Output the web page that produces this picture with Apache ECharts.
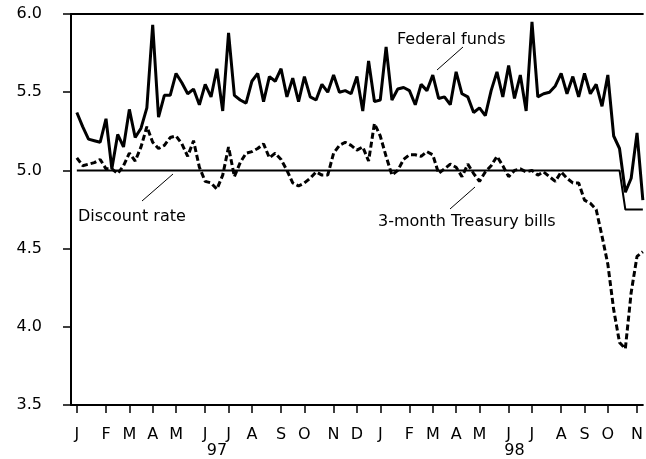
<!DOCTYPE html>
<html>
<head>
<meta charset="utf-8">
<script src="https://cdn.jsdelivr.net/npm/echarts@6/dist/echarts.min.js"></script>
<style>
html, body { margin: 0; padding: 0; background: #fff; }
#chart { width: 646px; height: 459px; }
</style>
</head>
<body>
<div id="chart"></div>
<script>
// weekly averages, week ending Friday, 1997-01-03 .. 1998-11-13
const firstFriday = '1997-01-03'
const monthLetters = ['J', 'F', 'M', 'A', 'M', 'J', 'J', 'A', 'S', 'O', 'N', 'D']
const yearLabels = { '1997-06-20': '97', '1998-06-12': '98' }

const fedFunds = [
    5.37, 5.28, 5.20, 5.19, 5.18, 5.33, 5.01, 5.23, 5.15, 5.39,
    5.21, 5.27, 5.40, 5.93, 5.34, 5.48, 5.48, 5.62, 5.56, 5.49,
    5.52, 5.42, 5.55, 5.47, 5.65, 5.38, 5.88, 5.48, 5.45, 5.43,
    5.57, 5.62, 5.44, 5.60, 5.57, 5.65, 5.47, 5.59, 5.44, 5.60,
    5.47, 5.45, 5.55, 5.50, 5.61, 5.50, 5.51, 5.49, 5.60, 5.38,
    5.70, 5.44, 5.45, 5.79, 5.45, 5.52, 5.53, 5.51, 5.42, 5.55,
    5.51, 5.61, 5.46, 5.47, 5.42, 5.63, 5.49, 5.47, 5.37, 5.40,
    5.35, 5.51, 5.63, 5.47, 5.67, 5.46, 5.61, 5.38, 5.95, 5.47,
    5.49, 5.50, 5.54, 5.62, 5.49, 5.60, 5.47, 5.62, 5.49, 5.55,
    5.41, 5.61, 5.22, 5.14, 4.86, 4.95, 5.24, 4.81
]
const tBills = [
    5.08, 5.03, 5.04, 5.05, 5.07, 5.01, 5.01, 4.98, 5.03, 5.11,
    5.06, 5.15, 5.28, 5.18, 5.14, 5.16, 5.21, 5.22, 5.17, 5.09,
    5.19, 5.02, 4.93, 4.92, 4.88, 4.97, 5.15, 4.96, 5.05, 5.11,
    5.12, 5.14, 5.17, 5.08, 5.11, 5.07, 5.00, 4.92, 4.90, 4.92,
    4.95, 4.99, 4.97, 4.97, 5.11, 5.16, 5.18, 5.16, 5.13, 5.15,
    5.06, 5.30, 5.22, 5.09, 4.97, 5.00, 5.07, 5.10, 5.10, 5.09,
    5.12, 5.10, 4.98, 5.01, 5.04, 5.02, 4.96, 5.04, 4.98, 4.93,
    4.99, 5.03, 5.09, 5.03, 4.96, 5.00, 5.01, 4.99, 5.00, 4.97,
    4.99, 4.96, 4.93, 4.99, 4.95, 4.92, 4.92, 4.81, 4.79, 4.75,
    4.58, 4.40, 4.11, 3.90, 3.86, 4.22, 4.45, 4.48
]
const discountRate = [
    5.00, 5.00, 5.00, 5.00, 5.00, 5.00, 5.00, 5.00, 5.00, 5.00,
    5.00, 5.00, 5.00, 5.00, 5.00, 5.00, 5.00, 5.00, 5.00, 5.00,
    5.00, 5.00, 5.00, 5.00, 5.00, 5.00, 5.00, 5.00, 5.00, 5.00,
    5.00, 5.00, 5.00, 5.00, 5.00, 5.00, 5.00, 5.00, 5.00, 5.00,
    5.00, 5.00, 5.00, 5.00, 5.00, 5.00, 5.00, 5.00, 5.00, 5.00,
    5.00, 5.00, 5.00, 5.00, 5.00, 5.00, 5.00, 5.00, 5.00, 5.00,
    5.00, 5.00, 5.00, 5.00, 5.00, 5.00, 5.00, 5.00, 5.00, 5.00,
    5.00, 5.00, 5.00, 5.00, 5.00, 5.00, 5.00, 5.00, 5.00, 5.00,
    5.00, 5.00, 5.00, 5.00, 5.00, 5.00, 5.00, 5.00, 5.00, 5.00,
    5.00, 5.00, 5.00, 5.00, 4.75, 4.75, 4.75, 4.75
]

// week categories, with an empty slot at the y axis
const weeks = ['']
const start = new Date(firstFriday + 'T00:00:00Z')
for (let i = 0; i < fedFunds.length; i++) {
    weeks.push(new Date(start.getTime() + i * 7 * 86400000).toISOString().slice(0, 10))
}
const isMonthStart = (idx, val) => val !== '' && Number(val.slice(8, 10)) <= 7
const pad = arr => [null].concat(arr)

const font = 'DejaVu Sans'
const chart = echarts.init(document.getElementById('chart'))

chart.setOption({
    animation: false,
    grid: { left: 71, right: 0, top: 14, bottom: 52 },
    xAxis: [
        {
            type: 'category',
            data: weeks,
            boundaryGap: false,
            position: 'bottom',
            axisLine: { lineStyle: { color: '#000', width: 2 } },
            axisTick: { interval: isMonthStart, length: 8, lineStyle: { color: '#000', width: 1.5 } },
            axisLabel: {
                interval: isMonthStart,
                formatter: v => monthLetters[Number(v.slice(5, 7)) - 1],
                margin: 22, color: '#000', fontSize: 16, fontFamily: font
            },
            splitLine: { show: false }
        },
        {
            type: 'category',
            data: weeks,
            boundaryGap: false,
            position: 'bottom',
            offset: 16,
            axisLine: { show: false },
            axisTick: { show: false },
            axisLabel: {
                interval: (idx, val) => val in yearLabels,
                formatter: v => yearLabels[v] || '',
                margin: 22, color: '#000', fontSize: 16, fontFamily: font
            }
        },
        {
            type: 'category',
            data: weeks,
            boundaryGap: false,
            position: 'top',
            axisLine: { lineStyle: { color: '#000', width: 2 } },
            axisTick: { show: false },
            axisLabel: { show: false }
        }
    ],
    yAxis: {
        type: 'value',
        min: 3.5,
        max: 6.0,
        interval: 0.5,
        axisLine: { show: true, lineStyle: { color: '#000', width: 2 } },
        axisTick: { show: true, length: 8, lineStyle: { color: '#000', width: 1.5 } },
        axisLabel: { formatter: v => v.toFixed(1), margin: 29, color: '#000', fontSize: 16, fontFamily: font },
        splitLine: { show: false }
    },
    series: [
        {
            name: 'Discount rate', type: 'line', data: pad(discountRate),
            symbol: 'none', lineStyle: { color: '#000', width: 2 }
        },
        {
            name: '3-month Treasury bills', type: 'line', data: pad(tBills),
            symbol: 'none', lineStyle: { color: '#000', width: 3, type: [6, 3] }
        },
        {
            name: 'Federal funds', type: 'line', data: pad(fedFunds),
            symbol: 'none', lineStyle: { color: '#000', width: 3 }
        }
    ],
    graphic: [
        { type: 'text', style: { text: 'Federal funds', x: 397, y: 40, fill: '#000', fontSize: 16, fontFamily: font, verticalAlign: 'middle' } },
        { type: 'line', shape: { x1: 437, y1: 70, x2: 463, y2: 47 }, style: { stroke: '#000', lineWidth: 1 } },
        { type: 'text', style: { text: '3-month Treasury bills', x: 378, y: 222, fill: '#000', fontSize: 16, fontFamily: font, verticalAlign: 'middle' } },
        { type: 'line', shape: { x1: 450, y1: 209, x2: 475, y2: 187 }, style: { stroke: '#000', lineWidth: 1 } },
        { type: 'text', style: { text: 'Discount rate', x: 78, y: 217, fill: '#000', fontSize: 16, fontFamily: font, verticalAlign: 'middle' } },
        { type: 'line', shape: { x1: 142, y1: 201, x2: 173, y2: 174 }, style: { stroke: '#000', lineWidth: 1 } }
    ]
})
</script>
</body>
</html>
